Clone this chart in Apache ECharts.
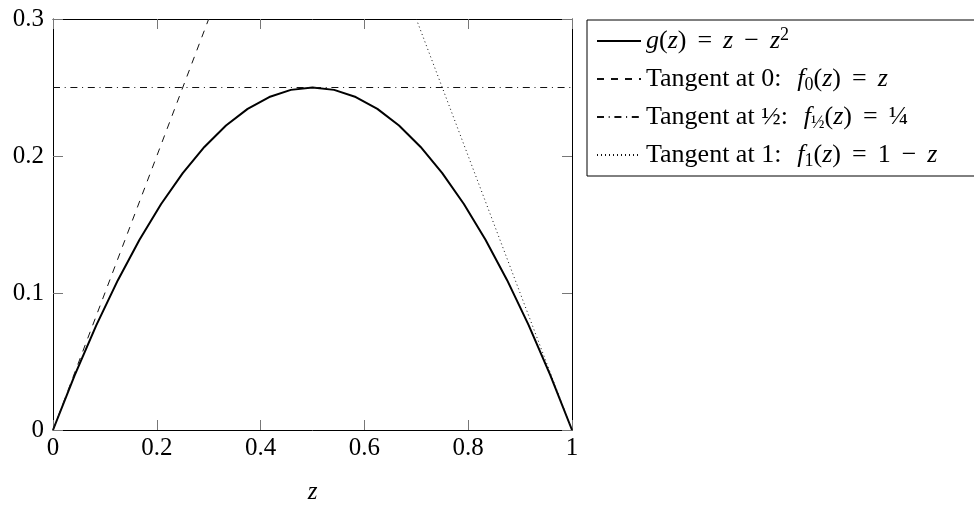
<!DOCTYPE html>
<html>
<head>
<meta charset="utf-8">
<script src="https://cdn.jsdelivr.net/npm/echarts@6/dist/echarts.min.js"></script>
<style>
  html, body { margin: 0; padding: 0; background: #fff; }
  #chart { width: 974px; height: 510px; }
</style>
</head>
<body>
<div id="chart"></div>
<script>
// Sample abscissae of g(z) = z - z^2 on [0, 1] (25 samples)
const zSamples = [
  0, 0.041667, 0.083333, 0.125, 0.166667, 0.208333, 0.25, 0.291667, 0.333333,
  0.375, 0.416667, 0.458333, 0.5, 0.541667, 0.583333, 0.625, 0.666667,
  0.708333, 0.75, 0.791667, 0.833333, 0.875, 0.916667, 0.958333, 1
];
const gValues = [
  0, 0.039931, 0.076389, 0.109375, 0.138889, 0.164931, 0.1875, 0.206597, 0.222222,
  0.234375, 0.243056, 0.248264, 0.25, 0.248264, 0.243056, 0.234375, 0.222222,
  0.206597, 0.1875, 0.164931, 0.138889, 0.109375, 0.076389, 0.039931, 0
];
// Tangent lines, given by their end points inside the visible window
const tangentAt0 = [[0, 0], [0.3, 0.3]];
const tangentAtHalf = [[0, 0.25], [1, 0.25]];
const tangentAt1 = [[0.7, 0.3], [1, 0]];

const xTickValues = [0, 0.2, 0.4, 0.6, 0.8, 1];
const yTickValues = [0, 0.1, 0.2, 0.3];

const seriesNames = ['g', 't0', 'thalf', 't1'];
const legendLabels = {
  g: '{i|g}({i|z}){op|=}{i|z}{op|\u2212}{i|z}{sup|2}',
  t0: 'Tangent at 0:{gap|}{i|f}{sub|0}({i|z}){op|=}{i|z}',
  thalf: 'Tangent at {n|\u00BD}:{gap|}{i|f}{sub|\u00BD}({i|z}){op|=}{n|\u00BC}',
  t1: 'Tangent at 1:{gap|}{i|f}{sub|1}({i|z}){op|=}1{op|\u2212}{i|z}'
};

const FONT = 'Liberation Serif';
const FS = 26;
const TICK_FS = 25;
const LH = 30;

const gSeriesData = zSamples.map((z, i) => [z, gValues[i]]);

const chart = echarts.init(document.getElementById('chart'), null, { renderer: 'canvas' });

const frameLine = { show: true, onZero: false, lineStyle: { color: '#000', width: 1 } };
const innerTick = { show: true, inside: true, length: 10, lineStyle: { color: '#777', width: 1 } };

const pickTick = (list) => (v) => {
  const t = list.find(x => Math.abs(x - v) < 1e-9);
  return t === undefined ? '' : String(t);
};

chart.setOption({
  animation: false,
  backgroundColor: '#fff',
  grid: { left: 53, top: 19, width: 519, height: 430, containLabel: false },
  xAxis: [
    {
      type: 'value', position: 'bottom', min: 0, max: 1, interval: 0.2,
      axisLine: frameLine, axisTick: innerTick, splitLine: { show: false },
      axisLabel: { color: '#000', fontFamily: FONT, fontSize: TICK_FS, margin: 6, formatter: pickTick(xTickValues) },
      name: 'z', nameLocation: 'middle', nameGap: 50,
      nameTextStyle: { color: '#000', fontFamily: FONT, fontSize: TICK_FS, fontStyle: 'italic' }
    },
    {
      type: 'value', position: 'top', min: 0, max: 1, interval: 0.2,
      axisLine: frameLine, axisTick: innerTick, splitLine: { show: false },
      axisLabel: { show: false }
    }
  ],
  yAxis: [
    {
      type: 'value', position: 'left', min: 0, max: 0.3, interval: 0.1,
      axisLine: frameLine, axisTick: innerTick, splitLine: { show: false },
      axisLabel: { color: '#000', fontFamily: FONT, fontSize: TICK_FS, margin: 9, formatter: pickTick(yTickValues) }
    },
    {
      type: 'value', position: 'right', min: 0, max: 0.3, interval: 0.1,
      axisLine: frameLine, axisTick: innerTick, splitLine: { show: false },
      axisLabel: { show: false }
    }
  ],
  legend: {
    orient: 'vertical',
    left: 587, top: 20,
    padding: [6, 40, 6, 9],
    itemGap: 8,
    itemWidth: 44, itemHeight: 14,
    borderColor: '#000', borderWidth: 1,
    backgroundColor: '#fff',
    itemStyle: { opacity: 0 },
    data: seriesNames,
    formatter: name => legendLabels[name],
    textStyle: {
      color: '#000', fontFamily: FONT, fontSize: FS, lineHeight: LH,
      rich: {
        i: { fontFamily: FONT, fontSize: FS, fontStyle: 'italic', lineHeight: LH, color: '#000' },
        n: { fontFamily: FONT, fontSize: FS, lineHeight: LH, color: '#000' },
        op: { fontFamily: FONT, fontSize: FS, lineHeight: LH, color: '#000', padding: [0, 11, 0, 11] },
        gap: { width: 16, lineHeight: LH },
        sup: { fontFamily: FONT, fontSize: 18, lineHeight: LH, verticalAlign: 'top', color: '#000' },
        sub: { fontFamily: FONT, fontSize: 18, lineHeight: LH, verticalAlign: 'bottom', color: '#000' }
      }
    }
  },
  series: [
    {
      name: 'g', type: 'line', data: gSeriesData, showSymbol: false, symbol: 'none',
      xAxisIndex: 0, yAxisIndex: 0, clip: true,
      lineStyle: { color: '#000', width: 2 }, itemStyle: { color: '#000' }
    },
    {
      name: 't0', type: 'line', data: tangentAt0, showSymbol: false, symbol: 'none',
      xAxisIndex: 0, yAxisIndex: 0, clip: true,
      lineStyle: { color: '#111', width: 1, type: [7, 7] }, itemStyle: { color: '#111' }
    },
    {
      name: 'thalf', type: 'line', data: tangentAtHalf, showSymbol: false, symbol: 'none',
      xAxisIndex: 0, yAxisIndex: 0, clip: true,
      lineStyle: { color: '#111', width: 1, type: [7, 4.7, 1, 4.7] }, itemStyle: { color: '#111' }
    },
    {
      name: 't1', type: 'line', data: tangentAt1, showSymbol: false, symbol: 'none',
      xAxisIndex: 0, yAxisIndex: 0, clip: true,
      lineStyle: { color: '#111', width: 1, type: [1, 3] }, itemStyle: { color: '#111' }
    }
  ]
});
</script>
</body>
</html>
